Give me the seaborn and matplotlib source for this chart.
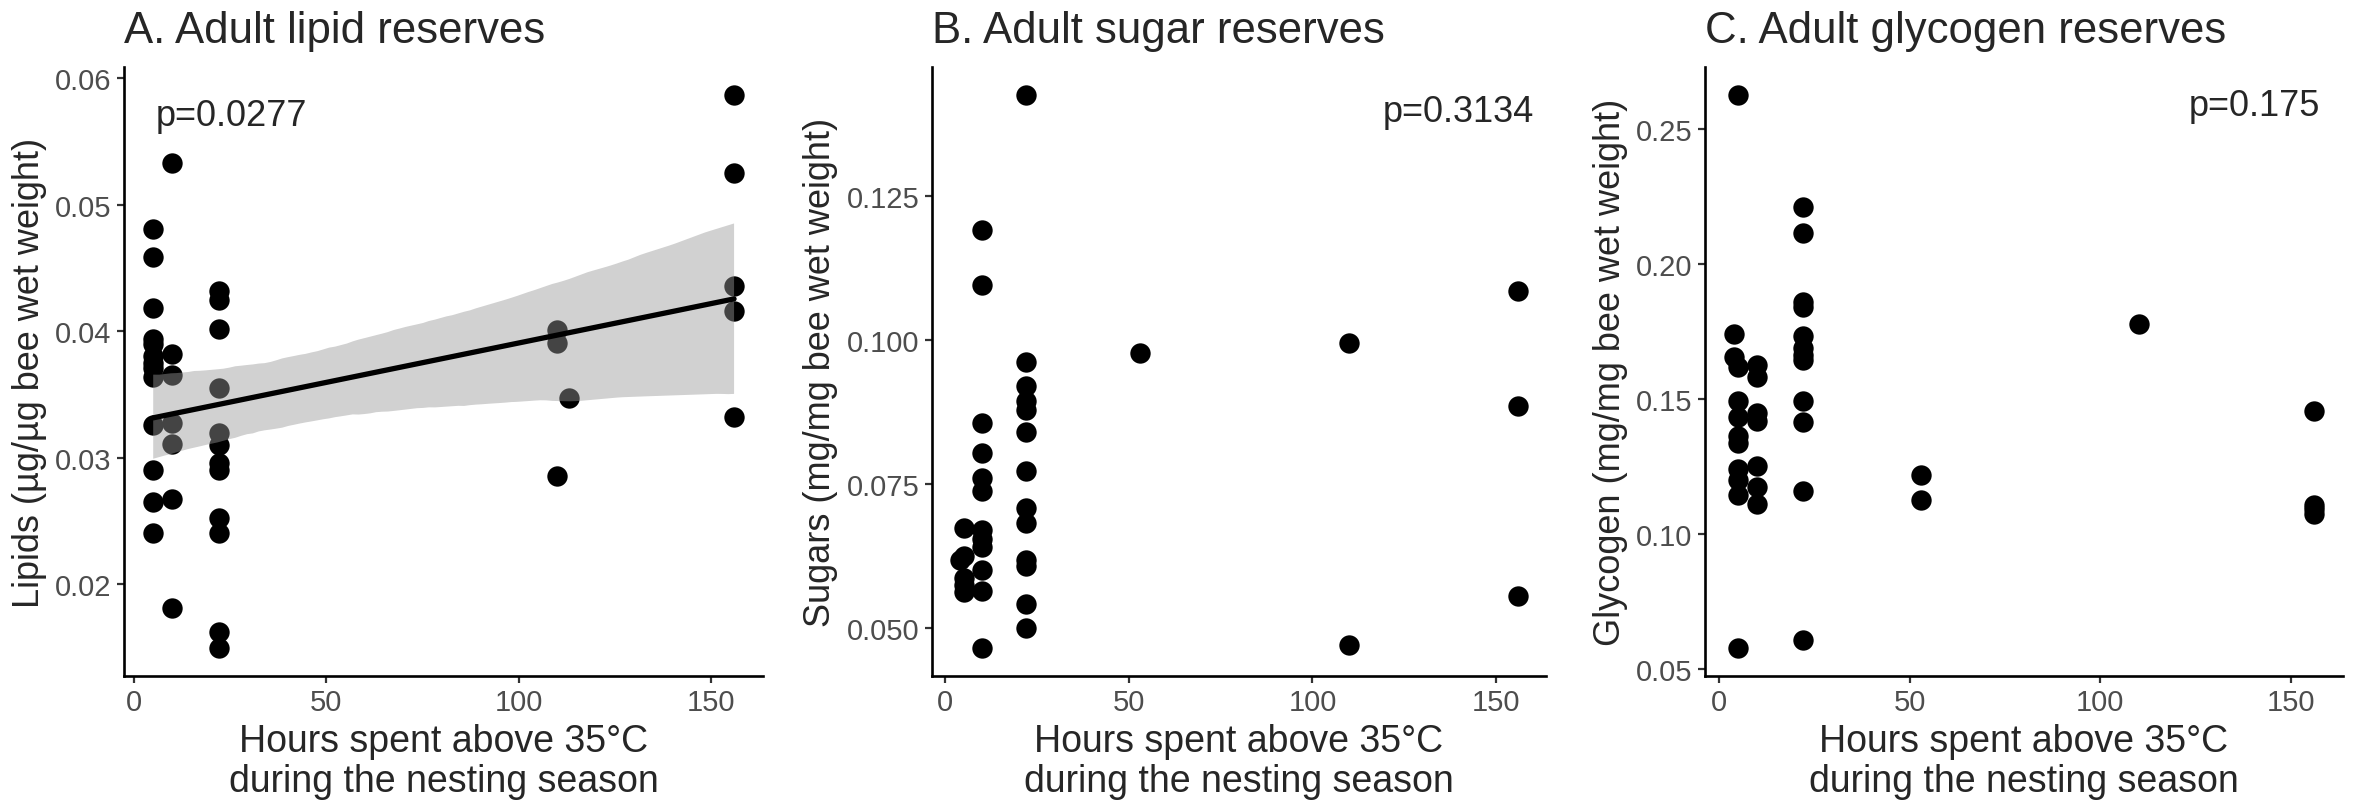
import numpy as np
import pandas as pd
import matplotlib
matplotlib.use("Agg")
import matplotlib.pyplot as plt
import seaborn as sns

# hours above 35C and reserves
lipid_hours = [5]*13 + [10]*7 + [22]*12 + [110]*3 + [113] + [156]*5
lipid_vals = [0.0481, 0.0459, 0.0418, 0.0394, 0.0390, 0.0380, 0.0375, 0.0371, 0.0364, 0.0326, 0.0290, 0.0265, 0.0240,
              0.0533, 0.0382, 0.0365, 0.0327, 0.0311, 0.0267, 0.0181,
              0.0432, 0.0425, 0.0402, 0.0355, 0.0319, 0.0310, 0.0296, 0.0290, 0.0252, 0.0240, 0.0162, 0.0149,
              0.0401, 0.0391, 0.0285,
              0.0347,
              0.0587, 0.0525, 0.0436, 0.0416, 0.0332]

sugar_hours = [4] + [5]*5 + [10]*12 + [22]*13 + [53] + [110]*2 + [156]*3
sugar_vals = [0.0618,
              0.0673, 0.0625, 0.0587, 0.0575, 0.0563,
              0.1190, 0.1096, 0.0856, 0.0803, 0.0760, 0.0737, 0.0670, 0.0655, 0.0640, 0.0600, 0.0565, 0.0465,
              0.1425, 0.0962, 0.0920, 0.0894, 0.0878, 0.0841, 0.0773, 0.0709, 0.0683, 0.0618, 0.0607, 0.0542, 0.0500,
              0.0978,
              0.0995, 0.0471,
              0.1084, 0.0885, 0.0556]

glyco_hours = [4]*2 + [5]*10 + [10]*7 + [22]*12 + [53]*2 + [110] + [156]*4
glyco_vals = [0.1741, 0.1655,
              0.2628, 0.1621, 0.1494, 0.1433, 0.1362, 0.1337, 0.1243, 0.1199, 0.1145, 0.0577,
              0.1628, 0.1582, 0.1448, 0.1420, 0.1253, 0.1175, 0.1111,
              0.2213, 0.2117, 0.1862, 0.1841, 0.1734, 0.1690, 0.1665, 0.1644, 0.1494, 0.1414, 0.1161, 0.0609,
              0.1218, 0.1128,
              0.1780,
              0.1456, 0.1107, 0.1094, 0.1075]

titles = ["A. Adult lipid reserves", "B. Adult sugar reserves", "C. Adult glycogen reserves"]
ylabels = ["Lipids (µg/µg bee wet weight)", "Sugars (mg/mg bee wet weight)", "Glycogen (mg/mg bee wet weight)"]
pvals = ["p=0.0277", "p=0.3134", "p=0.175"]
xticks = [0, 50, 100, 150]
yticks_a = [0.02, 0.03, 0.04, 0.05, 0.06]
yticks_b = [0.050, 0.075, 0.100, 0.125]
yticks_c = [0.05, 0.10, 0.15, 0.20, 0.25]

sns.set_style("ticks")
plt.rcParams['font.family'] = ['Liberation Sans', 'DejaVu Sans']

fig = plt.figure(figsize=(23.56, 8.12), dpi=100)
ax_a = fig.add_axes([0.0527, 0.1663, 0.2712, 0.7497])
ax_b = fig.add_axes([0.3956, 0.1663, 0.2606, 0.7497])
ax_c = fig.add_axes([0.7237, 0.1663, 0.2708, 0.7497])
axes = [ax_a, ax_b, ax_c]

data = [(lipid_hours, lipid_vals), (sugar_hours, sugar_vals), (glyco_hours, glyco_vals)]
yticks = [yticks_a, yticks_b, yticks_c]
yfmt = ["{:.2f}", "{:.3f}", "{:.2f}"]

for i, ax in enumerate(axes):
    df = pd.DataFrame({"hours": data[i][0], "value": data[i][1]})
    sns.scatterplot(data=df, x="hours", y="value", ax=ax, color="black",
                    s=215, linewidth=0, zorder=1)
    if i == 0:
        # linear fit with 95% band drawn over the points, as in ggplot
        sns.regplot(data=df, x="hours", y="value", ax=ax, scatter=False,
                    color="black", seed=0, line_kws={"linewidth": 3.8, "zorder": 3})
        band = ax.collections[-1]
        band.set_facecolor("#999999")
        band.set_alpha(0.45)
        band.set_edgecolor("none")
        band.set_zorder(2)

    ax.set_xticks(xticks)
    ax.set_yticks(yticks[i])
    ax.set_yticklabels([yfmt[i].format(t) for t in yticks[i]])
    ax.margins(x=0.05, y=0.05)
    ax.tick_params(labelsize=21, labelcolor="#4d4d4d", color="#333333",
                   length=5, width=1.6, pad=4)
    for sp in ["left", "bottom"]:
        ax.spines[sp].set_linewidth(1.9)
        ax.spines[sp].set_color("black")
    sns.despine(ax=ax)
    ax.set_xlabel("Hours spent above 35°C\nduring the nesting season", fontsize=27, linespacing=1.12, labelpad=5)
    ax.set_ylabel(ylabels[i], fontsize=26, labelpad=6)
    ax.set_title(titles[i], loc="left", fontsize=31.5, pad=18)

ax_a.text(0.049, 0.92, pvals[0], transform=ax_a.transAxes, fontsize=26, ha="left", va="center")
ax_b.text(0.98, 0.928, pvals[1], transform=ax_b.transAxes, fontsize=26, ha="right", va="center")
ax_c.text(0.964, 0.937, pvals[2], transform=ax_c.transAxes, fontsize=26, ha="right", va="center")

fig.savefig("out.png", dpi=100)
